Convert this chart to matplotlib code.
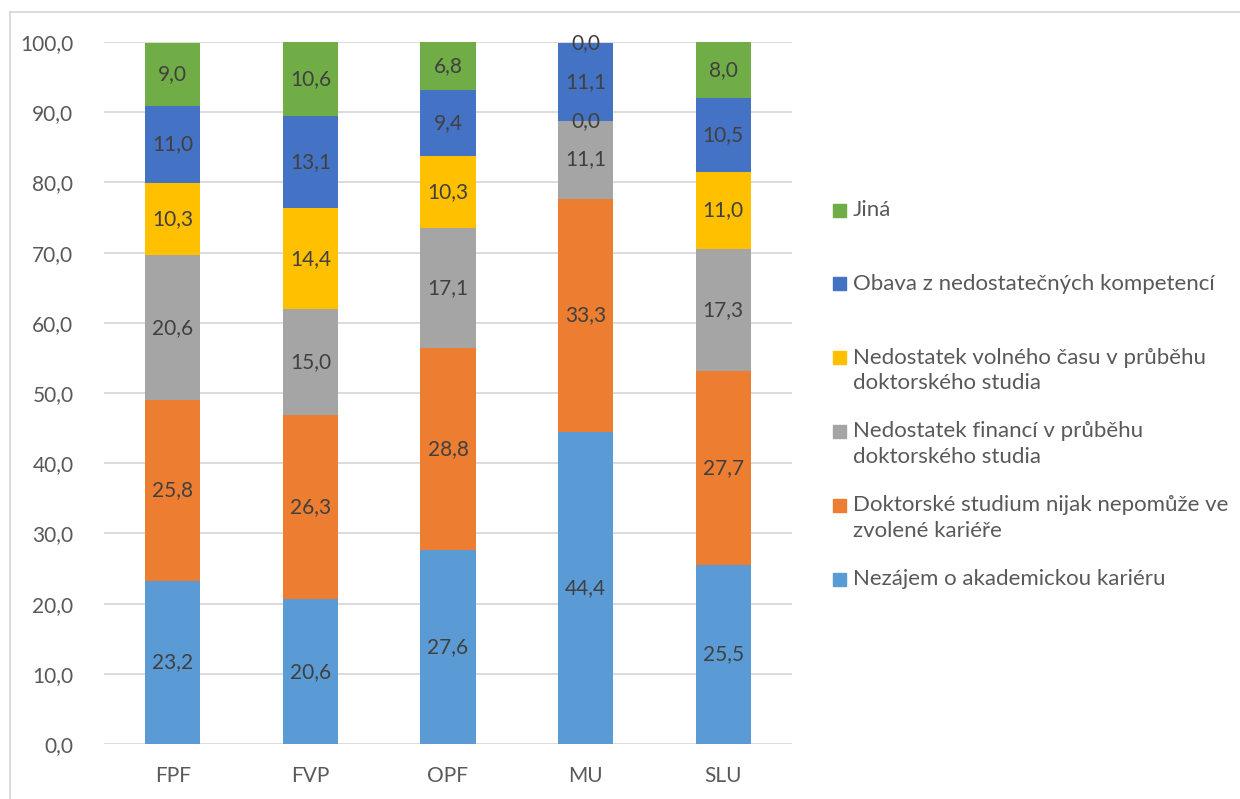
import matplotlib
matplotlib.use('Agg')
import matplotlib.pyplot as plt
from matplotlib.patches import Rectangle
from matplotlib.lines import Line2D
import numpy as np

plt.rcParams['font.family'] = ['Lato', 'DejaVu Sans']

# Data
categories = ['FPF', 'FVP', 'OPF', 'MU', 'SLU']
series_names = [
    'Nezájem o akademickou kariéru',
    'Doktorské studium nijak nepomůže ve\nzvolené kariéře',
    'Nedostatek financí v průběhu\ndoktorského studia',
    'Nedostatek volného času v průběhu\ndoktorského studia',
    'Obava z nedostatečných kompetencí',
    'Jiná',
]
nezajem = [23.2, 20.6, 27.6, 44.4, 25.5]
nepomuze = [25.8, 26.3, 28.8, 33.3, 27.7]
financi = [20.6, 15.0, 17.1, 11.1, 17.3]
volneho = [10.3, 14.4, 10.3, 0.0, 11.0]
obava = [11.0, 13.1, 9.4, 11.1, 10.5]
jina = [9.0, 10.6, 6.8, 0.0, 8.0]
series = [nezajem, nepomuze, financi, volneho, obava, jina]
colors = ['#5B9BD5', '#ED7D31', '#A5A5A5', '#FFC000', '#4472C4', '#70AD47']

W, H = 1240, 799
fig = plt.figure(figsize=(W / 100, H / 100), dpi=100)
ax = fig.add_axes([104 / W, (H - 744) / H, (792 - 104) / W, (744 - 42) / H])

x = np.arange(len(categories))
bottom = np.zeros(len(categories))
for vals, col in zip(series, colors):
    vals = np.array(vals)
    ax.bar(x, vals, 0.4, bottom=bottom, color=col, zorder=2)
    for xi, b, v in zip(x, bottom, vals):
        ax.text(xi, b + v / 2, f'{v:.1f}'.replace('.', ','), ha='center', va='center',
                fontsize=15, color='#404040', zorder=3)
    bottom += vals

ax.set_xlim(-0.5, len(categories) - 0.5)
ax.set_ylim(0, 100)
ax.set_yticks(np.arange(0, 101, 10))
ax.set_yticklabels([f'{v:.1f}'.replace('.', ',') for v in np.arange(0, 101, 10)])
ax.set_xticks(x)
ax.set_xticklabels(categories)
ax.tick_params(length=0, labelsize=15, labelcolor='#595959')
ax.tick_params(axis='y', pad=22)
ax.tick_params(axis='x', pad=16)
ax.grid(axis='y', color='#D9D9D9', linewidth=1.3, zorder=0)
ax.set_axisbelow(True)
for s in ax.spines.values():
    s.set_visible(False)

# legend drawn manually (markers line up with first text line)
leg_top = 210
step = 73.8
for i, (name, col) in enumerate(zip(series_names[::-1], colors[::-1])):
    yc = leg_top + i * step
    fig.patches.append(Rectangle((833 / W, 1 - (yc + 6.5) / H), 13 / W, 13 / H,
                                 transform=fig.transFigure, color=col))
    fig.text(853 / W, 1 - (yc - 10) / H, name, ha='left', va='top', fontsize=16,
             color='#595959', linespacing=1.36)

# chart border
fig.lines.append(Line2D([10 / W, 1], [1 - 12 / H, 1 - 12 / H], transform=fig.transFigure,
                        color='#D9D9D9', linewidth=1.3))
fig.lines.append(Line2D([10 / W, 10 / W], [0, 1 - 12 / H], transform=fig.transFigure,
                        color='#D9D9D9', linewidth=1.3))

fig.savefig('out.png', dpi=100)
